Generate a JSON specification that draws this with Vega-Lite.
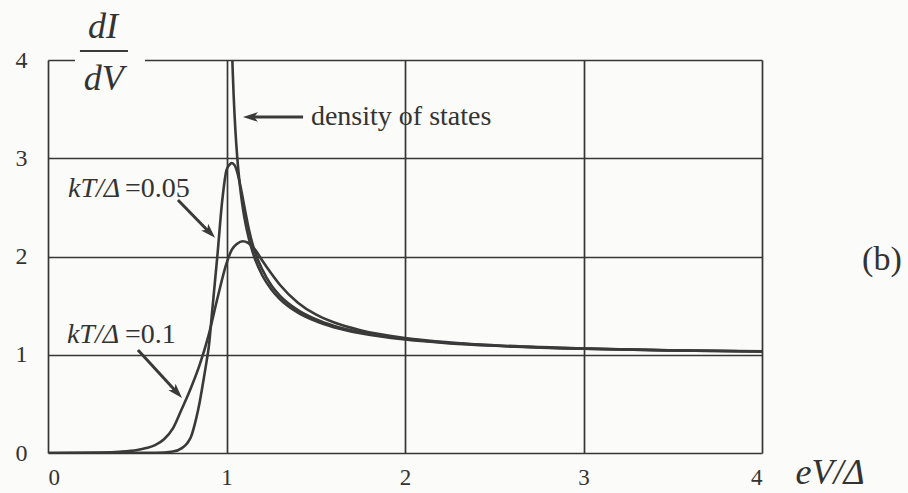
{
  "$schema": "https://vega.github.io/schema/vega-lite/v6.json",
  "width": 714,
  "height": 393,
  "autosize": {"type": "none"},
  "padding": {"left": 48, "top": 60, "right": 146, "bottom": 40},
  "background": "#fbfbf9",
  "config": {"view": {"stroke": null}, "font": "Liberation Serif, Times New Roman, DejaVu Serif, serif"},
  "datasets": {
    "curves": [
      {"series": "dos", "x": 1.0328, "y": 4.0},
      {"series": "dos", "x": 1.035, "y": 3.878},
      {"series": "dos", "x": 1.04, "y": 3.641},
      {"series": "dos", "x": 1.045, "y": 3.445},
      {"series": "dos", "x": 1.05, "y": 3.279},
      {"series": "dos", "x": 1.06, "y": 3.015},
      {"series": "dos", "x": 1.07, "y": 2.811},
      {"series": "dos", "x": 1.08, "y": 2.648},
      {"series": "dos", "x": 1.09, "y": 2.513},
      {"series": "dos", "x": 1.1, "y": 2.4},
      {"series": "dos", "x": 1.125, "y": 2.183},
      {"series": "dos", "x": 1.15, "y": 2.025},
      {"series": "dos", "x": 1.2, "y": 1.809},
      {"series": "dos", "x": 1.25, "y": 1.667},
      {"series": "dos", "x": 1.3, "y": 1.565},
      {"series": "dos", "x": 1.4, "y": 1.429},
      {"series": "dos", "x": 1.5, "y": 1.342},
      {"series": "dos", "x": 1.6, "y": 1.281},
      {"series": "dos", "x": 1.75, "y": 1.219},
      {"series": "dos", "x": 2.0, "y": 1.155},
      {"series": "dos", "x": 2.25, "y": 1.116},
      {"series": "dos", "x": 2.5, "y": 1.091},
      {"series": "dos", "x": 3.0, "y": 1.061},
      {"series": "dos", "x": 3.5, "y": 1.044},
      {"series": "dos", "x": 4.0, "y": 1.033},

      {"series": "kT005", "x": 0.0, "y": 0.0},
      {"series": "kT005", "x": 0.6, "y": 0.002},
      {"series": "kT005", "x": 0.7, "y": 0.015},
      {"series": "kT005", "x": 0.75, "y": 0.05},
      {"series": "kT005", "x": 0.78, "y": 0.1},
      {"series": "kT005", "x": 0.8, "y": 0.16},
      {"series": "kT005", "x": 0.83, "y": 0.35},
      {"series": "kT005", "x": 0.85, "y": 0.52},
      {"series": "kT005", "x": 0.87, "y": 0.73},
      {"series": "kT005", "x": 0.89, "y": 0.95},
      {"series": "kT005", "x": 0.9, "y": 1.07},
      {"series": "kT005", "x": 0.92, "y": 1.45},
      {"series": "kT005", "x": 0.95, "y": 2.03},
      {"series": "kT005", "x": 0.975, "y": 2.55},
      {"series": "kT005", "x": 1.0, "y": 2.88},
      {"series": "kT005", "x": 1.015, "y": 2.93},
      {"series": "kT005", "x": 1.03, "y": 2.95},
      {"series": "kT005", "x": 1.045, "y": 2.93},
      {"series": "kT005", "x": 1.06, "y": 2.86},
      {"series": "kT005", "x": 1.08, "y": 2.7},
      {"series": "kT005", "x": 1.1, "y": 2.51},
      {"series": "kT005", "x": 1.125, "y": 2.28},
      {"series": "kT005", "x": 1.15, "y": 2.1},
      {"series": "kT005", "x": 1.2, "y": 1.87},
      {"series": "kT005", "x": 1.25, "y": 1.71},
      {"series": "kT005", "x": 1.3, "y": 1.6},
      {"series": "kT005", "x": 1.4, "y": 1.455},
      {"series": "kT005", "x": 1.5, "y": 1.362},
      {"series": "kT005", "x": 1.6, "y": 1.296},
      {"series": "kT005", "x": 1.75, "y": 1.23},
      {"series": "kT005", "x": 2.0, "y": 1.162},
      {"series": "kT005", "x": 2.5, "y": 1.094},
      {"series": "kT005", "x": 3.0, "y": 1.062},
      {"series": "kT005", "x": 3.5, "y": 1.044},
      {"series": "kT005", "x": 4.0, "y": 1.033},

      {"series": "kT01", "x": 0.0, "y": 0.0},
      {"series": "kT01", "x": 0.3, "y": 0.005},
      {"series": "kT01", "x": 0.4, "y": 0.012},
      {"series": "kT01", "x": 0.5, "y": 0.03},
      {"series": "kT01", "x": 0.55, "y": 0.05},
      {"series": "kT01", "x": 0.6, "y": 0.08},
      {"series": "kT01", "x": 0.65, "y": 0.14},
      {"series": "kT01", "x": 0.7, "y": 0.25},
      {"series": "kT01", "x": 0.75, "y": 0.45},
      {"series": "kT01", "x": 0.8, "y": 0.66},
      {"series": "kT01", "x": 0.85, "y": 0.9},
      {"series": "kT01", "x": 0.9, "y": 1.2},
      {"series": "kT01", "x": 0.95, "y": 1.58},
      {"series": "kT01", "x": 1.0, "y": 1.93},
      {"series": "kT01", "x": 1.03, "y": 2.07},
      {"series": "kT01", "x": 1.06, "y": 2.13},
      {"series": "kT01", "x": 1.09, "y": 2.155},
      {"series": "kT01", "x": 1.12, "y": 2.14},
      {"series": "kT01", "x": 1.16, "y": 2.07},
      {"series": "kT01", "x": 1.2, "y": 1.96},
      {"series": "kT01", "x": 1.25, "y": 1.83},
      {"series": "kT01", "x": 1.3, "y": 1.71},
      {"series": "kT01", "x": 1.4, "y": 1.53},
      {"series": "kT01", "x": 1.5, "y": 1.41},
      {"series": "kT01", "x": 1.6, "y": 1.33},
      {"series": "kT01", "x": 1.75, "y": 1.25},
      {"series": "kT01", "x": 2.0, "y": 1.17},
      {"series": "kT01", "x": 2.25, "y": 1.125},
      {"series": "kT01", "x": 2.5, "y": 1.097},
      {"series": "kT01", "x": 3.0, "y": 1.064},
      {"series": "kT01", "x": 3.5, "y": 1.046},
      {"series": "kT01", "x": 4.0, "y": 1.035}
    ],
    "shafts": [
      {"x": 1.429, "y": 3.42, "x2": 1.137, "y2": 3.42},
      {"x": 0.728, "y": 2.575, "x2": 0.904, "y2": 2.247},
      {"x": 0.504, "y": 1.048, "x2": 0.72, "y2": 0.62}
    ],
    "bar": [{"x": 0.179, "y": 4.092, "x2": 0.448, "y2": 4.092}],
    "mask": [{"x": 0.151, "y": 3.96, "x2": 0.543, "y2": 4.04}],
    "bigItalic": [
      {"x": 0.308, "y": 4.224, "label": "dI"},
      {"x": 0.313, "y": 3.695, "label": "dV"},
      {"x": 4.381, "y": -0.316, "label": "eV/Δ"}
    ],
    "panel": [{"x": 4.672, "y": 1.964, "label": "(b)"}],
    "kTlabels": [
      {"x": 0.112, "y": 2.606, "label": "kT/Δ"},
      {"x": 0.106, "y": 1.12, "label": "kT/Δ"}
    ],
    "plain": [
      {"x": 0.431, "y": 2.606, "label": "=0.05"},
      {"x": 0.431, "y": 1.12, "label": "=0.1"},
      {"x": 1.473, "y": 3.338, "label": "density of states"}
    ],
    "headLeft": [{"x": 1.092, "y": 3.42}],
    "head005": [{"x": 0.936, "y": 2.19}],
    "head01": [{"x": 0.751, "y": 0.56}]
  },
  "encoding": {
    "x": {
      "field": "x",
      "type": "quantitative",
      "scale": {"domain": [0, 4], "nice": false, "zero": false},
      "axis": {
        "values": [0, 1, 2, 3, 4],
        "format": "d",
        "grid": true,
        "gridColor": "#363636",
        "gridWidth": 1.7,
        "gridOpacity": 1,
        "domain": false,
        "ticks": false,
        "tickSize": 0,
        "labelPadding": 13,
        "labelFont": "Liberation Serif, Times New Roman, DejaVu Serif, serif",
        "labelFontSize": 23,
        "labelColor": "#333333",
        "title": null
      }
    },
    "y": {
      "field": "y",
      "type": "quantitative",
      "scale": {"domain": [0, 4], "nice": false, "zero": false},
      "axis": {
        "values": [0, 1, 2, 3, 4],
        "format": "d",
        "grid": true,
        "gridColor": "#363636",
        "gridWidth": 1.7,
        "gridOpacity": 1,
        "domain": false,
        "ticks": false,
        "tickSize": 0,
        "labelPadding": 21,
        "labelFont": "Liberation Serif, Times New Roman, DejaVu Serif, serif",
        "labelFontSize": 24,
        "labelColor": "#333333",
        "title": null
      }
    }
  },
  "layer": [
    {
      "data": {"name": "mask"},
      "mark": {"type": "rect", "fill": "#fbfbf9", "stroke": null},
      "encoding": {"x2": {"field": "x2"}, "y2": {"field": "y2"}}
    },
    {
      "data": {"name": "curves"},
      "mark": {"type": "line", "color": "#3a3a3a", "strokeWidth": 2.6, "interpolate": "monotone", "clip": true},
      "encoding": {"detail": {"field": "series", "type": "nominal"}}
    },
    {
      "data": {"name": "shafts"},
      "mark": {"type": "rule", "color": "#3a3a3a", "strokeWidth": 3},
      "encoding": {"x2": {"field": "x2"}, "y2": {"field": "y2"}}
    },
    {
      "data": {"name": "bar"},
      "mark": {"type": "rule", "color": "#3a3a3a", "strokeWidth": 2},
      "encoding": {"x2": {"field": "x2"}, "y2": {"field": "y2"}}
    },
    {
      "data": {"name": "headLeft"},
      "mark": {"type": "point", "shape": "M0,0L-2,-0.65L-1.5,0L-2,0.65Z", "filled": true, "color": "#3a3a3a", "opacity": 1, "size": 225, "angle": 180},
      "encoding": {}
    },
    {
      "data": {"name": "head005"},
      "mark": {"type": "point", "shape": "M0,0L-2,-0.65L-1.5,0L-2,0.65Z", "filled": true, "color": "#3a3a3a", "opacity": 1, "size": 225, "angle": 46},
      "encoding": {}
    },
    {
      "data": {"name": "head01"},
      "mark": {"type": "point", "shape": "M0,0L-2,-0.65L-1.5,0L-2,0.65Z", "filled": true, "color": "#3a3a3a", "opacity": 1, "size": 225, "angle": 47.5},
      "encoding": {}
    },
    {
      "data": {"name": "bigItalic"},
      "mark": {"type": "text", "font": "Liberation Serif, Times New Roman, DejaVu Serif, serif", "fontStyle": "italic", "fontSize": 36, "align": "center", "baseline": "alphabetic", "color": "#333333"},
      "encoding": {"text": {"field": "label"}}
    },
    {
      "data": {"name": "panel"},
      "mark": {"type": "text", "font": "Liberation Serif, Times New Roman, DejaVu Serif, serif", "fontSize": 34, "align": "center", "baseline": "middle", "color": "#333333"},
      "encoding": {"text": {"field": "label"}}
    },
    {
      "data": {"name": "kTlabels"},
      "mark": {"type": "text", "font": "Liberation Serif, Times New Roman, DejaVu Serif, serif", "fontStyle": "italic", "fontSize": 28, "align": "left", "baseline": "alphabetic", "color": "#333333"},
      "encoding": {"text": {"field": "label"}}
    },
    {
      "data": {"name": "plain"},
      "mark": {"type": "text", "font": "Liberation Serif, Times New Roman, DejaVu Serif, serif", "fontSize": 28, "align": "left", "baseline": "alphabetic", "color": "#333333"},
      "encoding": {"text": {"field": "label"}}
    }
  ]
}
